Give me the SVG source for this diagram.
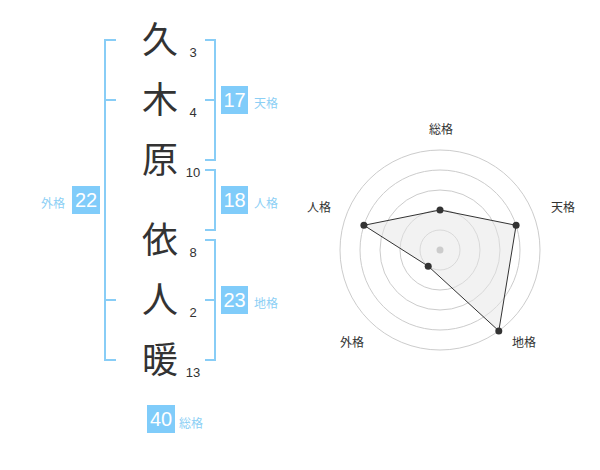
<svg xmlns="http://www.w3.org/2000/svg" width="600" height="470" viewBox="0 0 600 470">
<style>
.ch{font-family:"Noto Sans CJK JP","Noto Sans CJK SC",sans-serif;font-size:36px;fill:#333;text-anchor:middle}
.num{font-family:"Liberation Sans",Arial,sans-serif;font-size:13px;fill:#333;text-anchor:middle}
.br{fill:none;stroke:#88cdf6;stroke-width:2}
.box{fill:#80ccfa}
.bn{font-family:"Liberation Sans",Arial,sans-serif;font-size:20px;fill:#fff;text-anchor:middle}
.bl{font-family:"Noto Sans CJK JP","Noto Sans CJK SC",sans-serif;font-size:12px;fill:#8ccff5}
.rl{font-family:"Noto Sans CJK JP","Noto Sans CJK SC",sans-serif;font-size:12px;fill:#333;text-anchor:middle}
.ring{fill:none;stroke:#ccc;stroke-width:1}
</style>
<rect width="600" height="470" fill="#fff"/>
<g id="chars">
<text class="ch" x="160" y="53">久</text>
<text class="ch" x="160" y="113">木</text>
<text class="ch" x="160" y="173">原</text>
<text class="ch" x="160" y="253">依</text>
<text class="ch" x="160" y="313">人</text>
<text class="ch" x="160" y="373">暖</text>
</g>
<g id="strokes">
<text class="num" x="193" y="57">3</text>
<text class="num" x="193" y="117">4</text>
<text class="num" x="193" y="177">10</text>
<text class="num" x="193" y="257">8</text>
<text class="num" x="193" y="317">2</text>
<text class="num" x="193" y="377">13</text>
</g>
<g id="brackets">
<path class="br" d="M116 40H105V360H116M105 100H116M105 300H116"/>
<path class="br" d="M205 40H215V160H205M205 100H215"/>
<path class="br" d="M205 170H215V230H205"/>
<path class="br" d="M205 240H215V360H205M205 300H215"/>
</g>
<g id="tenkaku">
<rect class="box" x="221" y="86" width="27" height="28"/>
<text class="bn" x="234.5" y="107">17</text>
<text class="bl" x="254" y="108">天格</text>
</g>
<g id="jinkaku">
<rect class="box" x="221" y="186" width="27" height="28"/>
<text class="bn" x="234.5" y="207">18</text>
<text class="bl" x="254" y="208">人格</text>
</g>
<g id="chikaku">
<rect class="box" x="221" y="286" width="27" height="28"/>
<text class="bn" x="234.5" y="307">23</text>
<text class="bl" x="254" y="308">地格</text>
</g>
<g id="gaikaku">
<rect class="box" x="72" y="186" width="28" height="28"/>
<text class="bn" x="86" y="207">22</text>
<text class="bl" x="41" y="208">外格</text>
</g>
<g id="soukaku">
<rect class="box" x="147" y="405" width="28" height="28"/>
<text class="bn" x="161" y="426">40</text>
<text class="bl" x="179" y="428">総格</text>
</g>
<g id="radar">
<circle class="ring" cx="440" cy="250" r="20"/>
<circle class="ring" cx="440" cy="250" r="40"/>
<circle class="ring" cx="440" cy="250" r="60"/>
<circle class="ring" cx="440" cy="250" r="80"/>
<circle class="ring" cx="440" cy="250" r="100"/>
<polygon points="440,210 516.1,225.3 498.8,330.9 428.2,266.2 363.9,225.3" fill="#e6e6e6" fill-opacity="0.5" stroke="#333" stroke-width="1"/>
<circle cx="440" cy="250" r="3.5" fill="#ccc"/>
<g fill="#333">
<circle cx="440" cy="210" r="3.5"/>
<circle cx="516.1" cy="225.3" r="3.5"/>
<circle cx="498.8" cy="330.9" r="3.5"/>
<circle cx="428.2" cy="266.2" r="3.5"/>
<circle cx="363.9" cy="225.3" r="3.5"/>
</g>
<text class="rl" x="441" y="134">総格</text>
<text class="rl" x="563" y="212">天格</text>
<text class="rl" x="524" y="347">地格</text>
<text class="rl" x="352" y="347">外格</text>
<text class="rl" x="319" y="212">人格</text>
</g>
</svg>
